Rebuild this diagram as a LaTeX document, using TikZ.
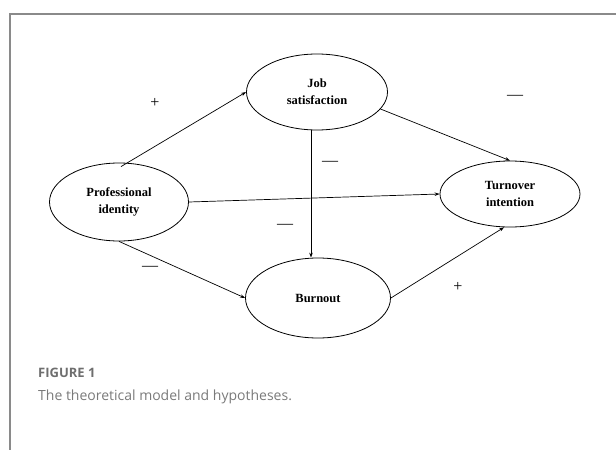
\documentclass[tikz,border=0pt]{standalone}
\usepackage{fontspec}
\setmainfont{Liberation Serif}
\newfontfamily\capfont{Open Sans}
\usetikzlibrary{shapes.geometric,arrows.meta}
\definecolor{frame}{HTML}{8A8A8A}
\definecolor{figlbl}{HTML}{6E6E6E}
\definecolor{captxt}{HTML}{7A7A7A}
\begin{document}
\begin{tikzpicture}[x=1pt,y=-1pt,
  var/.style={ellipse,draw,line width=0.8pt,inner sep=0pt,align=center,font=\bfseries\fontsize{12.5}{17}\selectfont},
  arr/.style={-{Stealth[length=5pt,width=3.5pt]},line width=0.7pt},
  sgn/.style={font=\fontsize{16}{16}\selectfont}]
\useasboundingbox (0,0) rectangle (616,450);
\draw[frame,line width=1.3pt] (616,14) -- coordinate (ftr) (10,14) -- (10,450);
\node[var,minimum width=141pt,minimum height=76pt] (js) at (317,92) {Job\\satisfaction};
\node[var,minimum width=139pt,minimum height=78pt] (pi) at (119,202) {Professional\\identity};
\node[var,minimum width=140pt,minimum height=66pt] (ti) at (510,194) {Turnover\\intention};
\node[var,minimum width=145pt,minimum height=80pt] (bo) at (318,298) {Burnout};
\draw[arr] (pi.north) ++(2,4) coordinate (p1) (p1) -- (js.west);
\draw[arr] (pi.east) -- (ti.west);
\draw[arr] (pi.south) -- (bo.west);
\draw[arr] (js.south) ++(-6,0) coordinate (j1) (j1) -- (j1 |- bo.north);
\draw[arr] (js.-15) -- (ti.north);
\draw[arr] (bo.east) -- (ti.-100);
\node[sgn] (s1) at (155,103) {+};
\node[sgn] (s2) at (515,97) {---};
\node[sgn] (s3) at (330,163) {---};
\node[sgn] (s4) at (285,226) {---};
\node[sgn] (s5) at (150,268) {---};
\node[sgn] (s6) at (458,287) {+};
\node[anchor=west,inner sep=0pt,text=figlbl,font=\capfont\bfseries\fontsize{13}{15}\selectfont] (fig) at (38,373) {FIGURE 1};
\node[anchor=west,inner sep=0pt,text=captxt,font=\capfont\fontsize{14}{16}\selectfont] (cap) at (38,397) {The theoretical model and hypotheses.};
\end{tikzpicture}
\end{document}
